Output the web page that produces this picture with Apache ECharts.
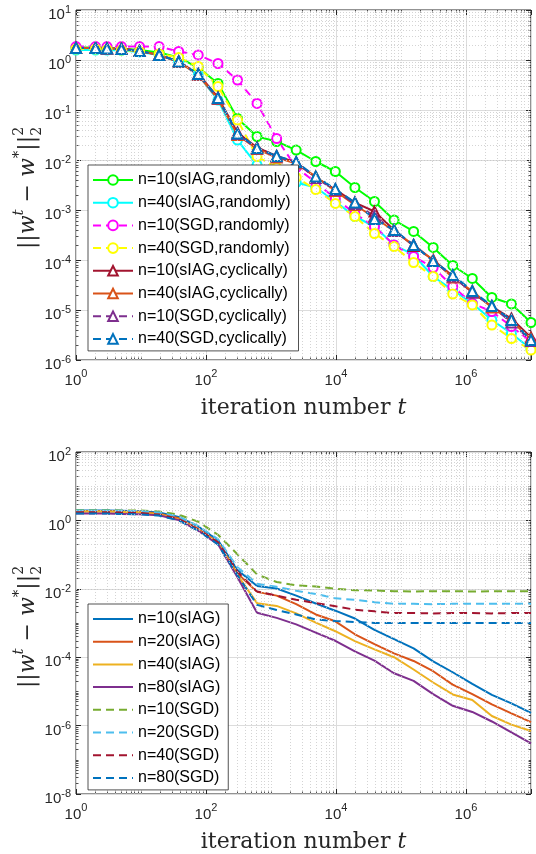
<!DOCTYPE html>
<html><head><meta charset="utf-8">
<script src="https://cdn.jsdelivr.net/npm/echarts@6/dist/echarts.min.js"></script>
<style>html,body{margin:0;padding:0;background:#fff}#c{width:536px;height:854px}</style>
</head><body><div id="c"></div>
<script>
// ---------- data ----------
const tIter = [1,2,3,5,9.5,19,38,76,153,305,610,1221,2441,4883,9766,19531,39062,78125,156250,312500,625000,1250000,2500000,5000000,10000000];

const topNames = ['n=10(sIAG,randomly)','n=40(sIAG,randomly)','n=10(SGD,randomly)','n=40(SGD,randomly)',
                  'n=10(sIAG,cyclically)','n=40(sIAG,cyclically)','n=10(SGD,cyclically)','n=40(SGD,cyclically)'];
const topSiag10Rand = [1.78,1.78,1.74,1.70,1.58,1.41,1.12,0.708,0.339,6.76e-2,2.95e-2,2.34e-2,1.58e-2,9.33e-3,5.89e-3,2.82e-3,1.48e-3,6.31e-4,3.72e-4,1.78e-4,7.76e-5,4.27e-5,1.78e-5,1.32e-5,5.62e-6];
const topSiag40Rand = [1.58,1.58,1.58,1.55,1.45,1.26,0.933,0.501,0.158,2.51e-2,7.94e-3,5.01e-3,3.55e-3,2.82e-3,1.48e-3,7.41e-4,4.68e-4,2.0e-4,1.26e-4,4.68e-5,2.51e-5,1.35e-5,6.31e-6,3.39e-6,1.66e-6];
const topSgd10Rand  = [1.86,1.86,1.86,1.86,1.86,1.86,1.48,1.26,0.851,0.398,0.135,2.69e-2,7.08e-3,3.55e-3,1.70e-3,8.51e-4,4.68e-4,2.0e-4,1.17e-4,7.08e-5,2.95e-5,1.35e-5,9.33e-6,4.68e-6,2.34e-6];
const topSgd40Rand  = [1.66,1.66,1.62,1.58,1.48,1.32,1.12,0.741,0.295,6.31e-2,1.17e-2,7.08e-3,4.47e-3,2.57e-3,1.35e-3,7.41e-4,3.39e-4,1.86e-4,8.91e-5,4.68e-5,2.09e-5,1.26e-5,5.01e-6,2.69e-6,1.58e-6];
const topSiag10Cyc  = [1.74,1.74,1.70,1.70,1.51,1.26,0.933,0.525,0.178,3.55e-2,1.78e-2,1.20e-2,8.91e-3,4.47e-3,2.57e-3,1.41e-3,9.33e-4,3.98e-4,1.91e-4,1.0e-4,4.79e-5,2.24e-5,1.17e-5,6.76e-6,2.82e-6];
const topSiag40Cyc  = [1.74,1.74,1.70,1.70,1.51,1.26,0.912,0.501,0.166,3.16e-2,1.66e-2,1.12e-2,8.51e-3,4.68e-3,2.40e-3,1.26e-3,7.08e-4,3.80e-4,2.0e-4,1.0e-4,4.47e-5,2.40e-5,1.12e-5,6.03e-6,2.63e-6];
const topSgd10Cyc   = [1.74,1.74,1.70,1.66,1.51,1.26,0.933,0.513,0.17,3.31e-2,1.70e-2,1.17e-2,8.91e-3,4.37e-3,2.51e-3,1.32e-3,7.59e-4,3.80e-4,2.0e-4,9.55e-5,4.68e-5,2.24e-5,1.20e-5,5.62e-6,2.40e-6];
const topSgd40Cyc   = [1.74,1.74,1.70,1.66,1.51,1.26,0.933,0.525,0.174,3.39e-2,1.74e-2,1.20e-2,9.12e-3,4.68e-3,2.63e-3,1.41e-3,6.61e-4,3.98e-4,2.0e-4,9.55e-5,5.01e-5,2.40e-5,1.20e-5,6.31e-6,2.51e-6];

const botNames = ['n=10(sIAG)','n=20(sIAG)','n=40(sIAG)','n=80(sIAG)','n=10(SGD)','n=20(SGD)','n=40(SGD)','n=80(SGD)'];
const botSiag10 = [1.95,1.95,1.95,1.91,1.86,1.70,1.26,0.661,0.263,3.55e-2,1.20e-2,1.02e-2,6.31e-3,3.72e-3,2.29e-3,1.35e-3,6.31e-4,3.39e-4,1.82e-4,7.59e-5,3.63e-5,1.66e-5,7.94e-6,4.47e-6,2.34e-6];
const botSiag20 = [1.86,1.86,1.86,1.82,1.78,1.58,1.15,0.562,0.229,2.82e-2,8.13e-3,6.31e-3,3.55e-3,1.78e-3,1.12e-3,4.68e-4,2.40e-4,1.29e-4,7.76e-5,3.89e-5,1.58e-5,8.32e-6,4.17e-6,2.29e-6,1.26e-6];
const botSiag40 = [1.82,1.82,1.82,1.78,1.74,1.51,1.07,0.525,0.219,2.51e-2,3.80e-3,3.16e-3,1.91e-3,1.02e-3,5.75e-4,2.95e-4,1.70e-4,1.0e-4,4.37e-5,1.82e-5,8.13e-6,5.62e-6,1.91e-6,1.07e-6,6.92e-7];
const botSiag80 = [1.58,1.58,1.58,1.55,1.51,1.41,1.02,0.501,0.2,2.19e-2,2.0e-3,1.41e-3,9.12e-4,5.25e-4,3.02e-4,1.48e-4,7.94e-5,3.39e-5,2.04e-5,8.32e-6,3.80e-6,2.51e-6,1.32e-6,6.31e-7,3.02e-7];
const botSgd10  = [2.0,2.0,2.0,1.95,1.95,1.82,1.48,0.912,0.38,0.102,2.63e-2,1.58e-2,1.26e-2,1.17e-2,1.0e-2,9.12e-3,8.91e-3,8.51e-3,8.32e-3,8.51e-3,8.51e-3,8.32e-3,8.51e-3,8.51e-3,8.51e-3];
const botSgd20  = [1.95,1.95,1.95,1.91,1.86,1.70,1.29,0.692,0.282,4.27e-2,1.41e-2,1.15e-2,8.71e-3,7.08e-3,5.25e-3,4.79e-3,4.07e-3,3.63e-3,3.63e-3,3.55e-3,3.63e-3,3.63e-3,3.63e-3,3.63e-3,3.63e-3];
const botSgd40  = [1.74,1.74,1.74,1.70,1.66,1.48,1.10,0.537,0.229,3.16e-2,8.32e-3,6.31e-3,4.79e-3,3.80e-3,3.09e-3,2.45e-3,2.19e-3,1.95e-3,1.95e-3,1.91e-3,1.95e-3,1.95e-3,1.91e-3,1.95e-3,1.95e-3];
const botSgd80  = [1.58,1.58,1.58,1.55,1.51,1.38,1.0,0.501,0.2,2.51e-2,3.39e-3,2.40e-3,1.78e-3,1.26e-3,1.15e-3,1.07e-3,1.0e-3,1.0e-3,1.0e-3,1.0e-3,1.0e-3,1.0e-3,1.0e-3,1.0e-3,1.0e-3];

// ---------- style ----------
const C = {green:'#00FF00', cyan:'#00FFFF', mag:'#FF00FF', yel:'#FFFF00',
           dred:'#A2142F', orange:'#D95319', purple:'#7E2F8E', blue:'#0072BD',
           yellowM:'#EDB120', lgreen:'#77AC30', lblue:'#4DBEEE'};
const INK = '#262626';
const DASH = [8,5];

function pairs(v){ return tIter.map((t,i)=>[t, v[i]]); }

function mkSeries(name, vals, color, dashed, symbol, axisIdx){
  const tri = symbol==='emptyTriangle';
  return {
    type:'line', name, data:pairs(vals), xAxisIndex:axisIdx, yAxisIndex:axisIdx,
    showSymbol: !!symbol, symbol: symbol || 'none', symbolSize: tri?10:9,
    itemStyle:{color, borderColor:color, borderWidth: tri?2.3:1.8},
    lineStyle:{color, width:2, type: dashed?DASH:'solid'},
    emphasis:{disabled:true}, clip:false, z:3, animation:false
  };
}

function minorValues(e0, e1, oddDecades){
  const out=[];
  for(let e=e0;e<e1;e++){
    if(oddDecades && e>e0 && ((e%2)+2)%2===1) out.push(Math.pow(10,e));
    for(let m=2;m<=9;m++) out.push(m*Math.pow(10,e));
  }
  return out;
}
function gridSeries(axisIdx, xVals, yVals){
  return {
    type:'line', data:[], xAxisIndex:axisIdx, yAxisIndex:axisIdx, silent:true, z:0, animation:false,
    markLine:{silent:true, symbol:['none','none'], label:{show:false}, animation:false,
      lineStyle:{color:'#c9c9c9', type:[1,2], width:0.8},
      emphasis:{disabled:true},
      data: xVals.map(v=>({xAxis:v})).concat(yVals.map(v=>({yAxis:v})))}
  };
}

const richLab = {
  b:{fontFamily:'Liberation Sans', fontSize:15, color:INK, padding:[10,0,0,0]},
  s:{fontFamily:'Liberation Sans', fontSize:11, color:INK}
};
const richLabX = {
  b:{fontFamily:'Liberation Sans', fontSize:15, color:INK},
  s:{fontFamily:'Liberation Sans', fontSize:11, color:INK, padding:[0,0,14,0]}
};
function pow10Label(evenOnly){
  return v=>{ const e=Math.round(Math.log10(v)); if(evenOnly && e%2!==0) return ''; return '{b|10}{s|'+e+'}'; };
}

const tickMajor = {show:true, inside:true, length:5, lineStyle:{color:INK, width:1}};
function tickMinor(vals){ return {show:true, inside:true, length:2.5, customValues:vals, lineStyle:{color:INK, width:0.8}}; }

function xAxes(gridIndex, minorVals){
  const common = {type:'log', logBase:10, min:1, max:1e7, interval:2, gridIndex, axisLine:{show:false}};
  return [
    Object.assign({}, common, {position:'bottom', axisTick:tickMajor,
      axisLabel:{show:true, margin:8, formatter:pow10Label(true), rich:richLabX},
      splitLine:{show:true, lineStyle:{color:'#dcdcdc', width:1}},
      name:'{a|iteration number }{b|t}', nameLocation:'middle', nameGap:37,
      nameTextStyle:{rich:{a:{fontFamily:'DejaVu Serif', fontSize:22, color:INK},
                           b:{fontFamily:'DejaVu Serif', fontSize:22, fontStyle:'italic', color:INK}}}}),
    Object.assign({}, common, {position:'top', axisTick:tickMajor, axisLabel:{show:false}, splitLine:{show:false}}),
    Object.assign({}, common, {position:'bottom', axisTick:tickMinor(minorVals), axisLabel:{show:false}, splitLine:{show:false}}),
    Object.assign({}, common, {position:'top', axisTick:tickMinor(minorVals), axisLabel:{show:false}, splitLine:{show:false}})
  ];
}
function yAxes(gridIndex, min, max, interval, evenOnly, minorVals){
  const common = {type:'log', logBase:10, min, max, interval, gridIndex, axisLine:{show:false}};
  return [
    Object.assign({}, common, {position:'left', axisTick:tickMajor,
      axisLabel:{show:true, margin:5, formatter:pow10Label(evenOnly), rich:richLab},
      splitLine:{show:true, lineStyle:{color:'#dcdcdc', width:1}}}),
    Object.assign({}, common, {position:'right', axisTick:tickMajor, axisLabel:{show:false}, splitLine:{show:false}}),
    Object.assign({}, common, {position:'left', axisTick:tickMinor(minorVals), axisLabel:{show:false}, splitLine:{show:false}}),
    Object.assign({}, common, {position:'right', axisTick:tickMinor(minorVals), axisLabel:{show:false}, splitLine:{show:false}})
  ];
}

function legendCfg(names, top, hideSymbol){
  const cfg = {data:names, orient:'vertical', left:88, top, itemWidth:40, itemHeight:12, itemGap:4.7,
    padding:[6,8,3,4], borderColor:INK, borderWidth:0.8, backgroundColor:'#fff', borderRadius:0,
    selectedMode:false, z:10,
    textStyle:{fontFamily:'Liberation Sans', fontSize:16, color:'#000', lineHeight:18}};
  if(hideSymbol) cfg.itemStyle = {opacity:0};
  return cfg;
}

// y-axis title built from text pieces
const mctx = document.createElement('canvas').getContext('2d');
function yTitle(cx, cy){
  const F='"DejaVu Serif"';
  const parts=[
    {t:'||', f:'22px '+F, dy:0},
    {t:'w', f:'italic 22px '+F, dy:0},
    {t:'t', f:'italic 15px '+F, dy:-9},
    {t:' \u2212 ', f:'22px '+F, dy:0},
    {t:'w', f:'italic 22px '+F, dy:0},
    {t:'*', f:'15px '+F, dy:-9},
    {t:'||', f:'22px '+F, dy:0},
    {t:'2', f:'14px '+F, dy:-9, sub:true}
  ];
  let w=0; parts.forEach(p=>{ mctx.font=p.f; p.w=mctx.measureText(p.t).width; p.x=w; w+=p.w; });
  const children=[];
  parts.forEach(p=>{
    children.push({type:'text', x:p.x-w/2, y:p.dy, silent:true,
      style:{text:p.t, font:p.f, fill:INK, align:'left', verticalAlign:'middle', textAlign:'left', textVerticalAlign:'middle'}});
    if(p.sub) children.push({type:'text', x:p.x-w/2, y:9, silent:true,
      style:{text:'2', font:p.f, fill:INK, align:'left', verticalAlign:'middle', textAlign:'left', textVerticalAlign:'middle'}});
  });
  return {type:'group', x:cx, y:cy, rotation:Math.PI/2, children};
}

const chart = echarts.init(document.getElementById('c'), null, {renderer:'canvas'});
const xMinor = minorValues(0,7,true);
const yMinorTop = minorValues(-6,1,false);
const yMinorBot = minorValues(-8,2,true);
const series = [
  gridSeries(0, xMinor, yMinorTop),
  mkSeries(topNames[0], topSiag10Rand, C.green, false, 'emptyCircle', 0),
  mkSeries(topNames[1], topSiag40Rand, C.cyan, false, 'emptyCircle', 0),
  mkSeries(topNames[2], topSgd10Rand, C.mag, true, 'emptyCircle', 0),
  mkSeries(topNames[3], topSgd40Rand, C.yel, true, 'emptyCircle', 0),
  mkSeries(topNames[4], topSiag10Cyc, C.dred, false, 'emptyTriangle', 0),
  mkSeries(topNames[5], topSiag40Cyc, C.orange, false, 'emptyTriangle', 0),
  mkSeries(topNames[6], topSgd10Cyc, C.purple, true, 'emptyTriangle', 0),
  mkSeries(topNames[7], topSgd40Cyc, C.blue, true, 'emptyTriangle', 0),
  gridSeries(4, xMinor, yMinorBot),
  mkSeries(botNames[0], botSiag10, C.blue, false, null, 4),
  mkSeries(botNames[1], botSiag20, C.orange, false, null, 4),
  mkSeries(botNames[2], botSiag40, C.yellowM, false, null, 4),
  mkSeries(botNames[3], botSiag80, C.purple, false, null, 4),
  mkSeries(botNames[4], botSgd10, C.lgreen, true, null, 4),
  mkSeries(botNames[5], botSgd20, C.lblue, true, null, 4),
  mkSeries(botNames[6], botSgd40, C.dred, true, null, 4),
  mkSeries(botNames[7], botSgd80, C.blue, true, null, 4)
];

chart.setOption({
  animation:false,
  backgroundColor:'#fff',
  grid:[
    {left:76, top:10, width:455, height:350, show:true, borderColor:INK, borderWidth:1, backgroundColor:'transparent', containLabel:false},
    {left:76, top:452, width:455, height:349, show:true, borderColor:INK, borderWidth:1, backgroundColor:'transparent', containLabel:false}
  ],
  xAxis:[].concat(xAxes(0, xMinor), xAxes(1, xMinor)),
  yAxis:[].concat(yAxes(0, 1e-6, 10, 1, false, yMinorTop), yAxes(1, 1e-8, 100, 2, true, yMinorBot)),
  legend:[legendCfg(topNames, 165, false), legendCfg(botNames, 604, true)],
  graphic:[yTitle(28, 188), yTitle(28, 627)],
  series
});
</script></body></html>
